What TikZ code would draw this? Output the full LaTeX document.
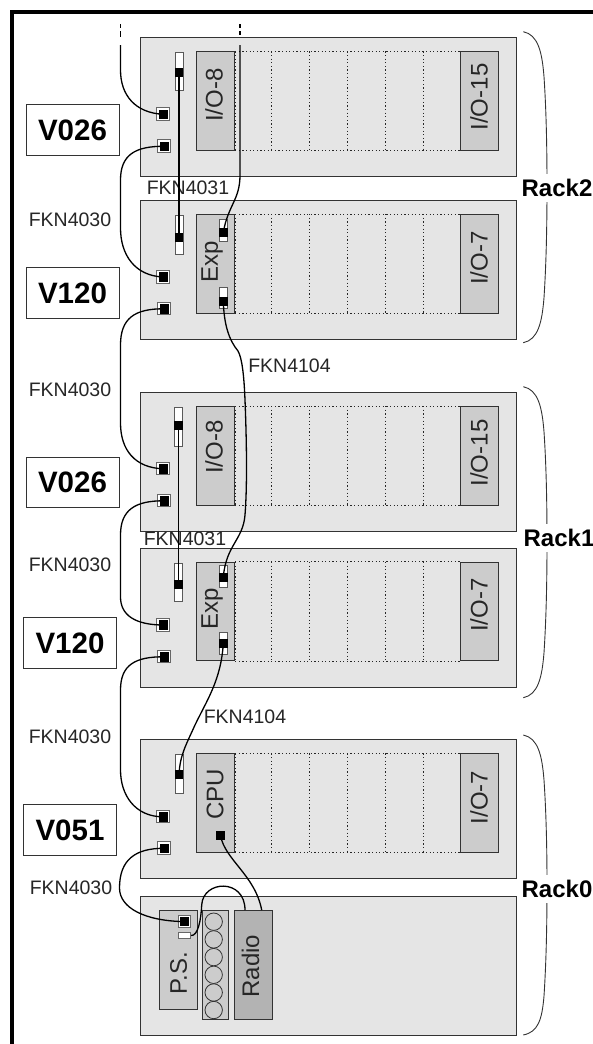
\documentclass[tikz,border=0pt]{standalone}
\usepackage{fontspec}
\setmainfont{Liberation Sans}
\definecolor{rackfill}{HTML}{E5E5E5}
\definecolor{slotfill}{HTML}{CCCCCC}
\definecolor{radiofill}{HTML}{B3B3B3}
\definecolor{edge}{HTML}{333333}
\tikzset{
  rackbox/.style={draw=edge,fill=rackfill,line width=0.9pt,minimum width=376.5pt,minimum height=139pt,inner sep=0pt,anchor=north west},
  slotbox/.style={draw=edge,fill=slotfill,line width=0.9pt,minimum width=38pt,minimum height=98.5pt,inner sep=0pt,anchor=north west},
  slotdot/.style={line width=0.9pt,dash pattern=on 1.2pt off 2.4pt,black!85},
  slotname/.style={rotate=90,font=\fontsize{24}{24}\selectfont,text=black!85,inner sep=0pt},
  plain/.style={font=\fontsize{19.5}{20}\selectfont,text=black!85,inner sep=0pt},
  volt/.style={draw=edge,fill=white,line width=0.9pt,minimum width=93pt,minimum height=50.5pt,font=\bfseries\fontsize{29.5}{30}\selectfont,inner sep=0pt},
  racklabel/.style={font=\bfseries\fontsize{24}{24}\selectfont,fill=white,inner sep=0pt,minimum height=28pt},
  portout/.style={draw=black!60,fill=white,line width=0.8pt,minimum size=12.5pt,inner sep=0pt},
  portin/.style={fill=black,minimum size=9.5pt,inner sep=0pt},
  switchbox/.style={draw=black!65,fill=white,line width=0.8pt,minimum width=8pt,minimum height=38.5pt,inner sep=0pt},
  exsw/.style={draw=black!65,fill=white,line width=0.8pt,minimum width=8pt,minimum height=21.5pt,inner sep=0pt},
  band/.style={fill=black,minimum width=8.5pt,minimum height=9pt,inner sep=0pt},
  cable/.style={draw=black,line width=1.3pt},
  brace/.style={draw=edge,line width=0.9pt},
}
\newcommand{\rackunit}[2]{%
  \node[rackbox] (#1) at (139.5,#2) {};
  \node[slotbox] (#1L) at (196.3,#2+14.4) {};
  \node[slotbox] (#1R) at (460.3,#2+14.4) {};
  \draw[slotdot] (#1L.north east) -- (#1R.north west);
  \draw[slotdot] (#1L.south east) -- (#1R.south west);
  \draw[slotdot] (#1L.north east) -- (#1L.south east);
  \foreach \vx in {271.3,309.3,347.3,385.3,423.3}
    \draw[slotdot] (\vx,#2+14.4) -- (\vx,#2+112.9);
}
\newcommand{\portat}[4]{% name, x, y, black offset x
  \node[portout] (#1o) at (#2,#3) {};
  \node[portin] (#1) at (#2+#4,#3+0.3) {};
}
\newcommand{\switchat}[4]{% name, x, y centre, band y
  \node[switchbox] (#1o) at (#2,#3) {};
  \node[band] (#1) at (#2,#4) {};
}
\newcommand{\exswitch}[4]{%
  \node[exsw] (#1o) at (#2,#3) {};
  \node[band] (#1) at (#2,#4) {};
}
\newcommand{\bracefrom}[1]{% top y
  \draw[brace] (523.3,#1) .. controls (538,#1+3) and (542,#1+20) .. (544,#1+45)
    .. controls (546,#1+75) and (547,#1+110) .. (547,#1+155)
    .. controls (547,#1+200) and (546,#1+235) .. (544,#1+266)
    .. controls (542,#1+291) and (538,#1+308) .. (523.3,#1+311);
}
\begin{document}
\begin{tikzpicture}[x=1pt,y=-1pt]
\useasboundingbox (0,0) rectangle (593,1044);
\fill[white] (0,0) rectangle (593,1044);
\fill[black] (10,10) rectangle (593,14.2);
\fill[black] (10,10) rectangle (14.2,1044);

% racks
\rackunit{a}{37}
\rackunit{b}{199.7}
\rackunit{c}{391.7}
\rackunit{d}{547.5}
\rackunit{e}{739}
\node[rackbox] (f) at (139.5,895.5) {};

% slot names
\node[slotname] (t1) at (214,95) {I/O-8};
\node[slotname] (t2) at (479,97) {I/O-15};
\node[slotname] (t3) at (212,262) {Exp};
\node[slotname] (t4) at (479,258) {I/O-7};
\node[slotname] (t5) at (214,447) {I/O-8};
\node[slotname] (t6) at (479,453) {I/O-15};
\node[slotname] (t7) at (212,609) {Exp};
\node[slotname] (t8) at (479,605) {I/O-7};
\node[slotname] (t9) at (215,794) {CPU};
\node[slotname] (t10) at (479,797.5) {I/O-7};

% bottom rack contents
\node[slotbox,minimum height=99pt] (ps) at (158.7,910) {};
\node[slotname] (t11) at (178.5,973) {P.S.};
\node[slotbox,minimum width=26pt,minimum height=109.3pt] (fan) at (202,910) {};
\foreach \cy in {921.7,939.4,957.1,974.8,992.5,1010}
  \draw[draw=edge,line width=0.8pt,fill=slotfill] (213.7,\cy) circle (8.7);
\node[slotbox,fill=radiofill,minimum height=109.3pt] (radio) at (234,910) {};
\node[slotname] (t12) at (250.5,966) {Radio};

% voltage boxes
\node[volt] (v1) at (72.5,130) {V026};
\node[volt] (v2) at (72.5,293) {V120};
\node[volt] (v3) at (72.5,482.5) {V026};
\node[volt] (v4) at (70,643) {V120};
\node[volt] (v5) at (70,830) {V051};

% rack labels and braces
\bracefrom{31.7}
\bracefrom{386.7}
\draw[brace] (523.3,735) .. controls (538,738) and (542,755) .. (544,780)
  .. controls (546,810) and (547,845) .. (547,885)
  .. controls (547,930) and (546,965) .. (544,996)
  .. controls (542,1020) and (538,1032) .. (523.3,1035);
\node[racklabel] (rk2) at (557,188) {Rack2};
\node[racklabel] (rk1) at (559,538) {Rack1};
\node[racklabel] (rk0) at (557,889) {Rack0};

% ports
\portat{p1}{162.7}{114}{0.8}
\portat{p2}{164}{146}{0.6}
\portat{p3}{162.7}{276.7}{0.8}
\portat{p4}{164}{308.5}{0.6}
\portat{p5}{162.7}{468.5}{0.8}
\portat{p6}{164}{500.5}{0.6}
\portat{p7}{162.7}{624.7}{0.8}
\portat{p8}{164}{656.5}{0.6}
\portat{p9}{162.7}{816.5}{0.8}
\portat{p10}{164}{848}{0.6}
\portat{p11}{184.5}{921.3}{0}
\node[draw=black!60,fill=white,line width=0.8pt,minimum width=12.5pt,minimum height=5.5pt,inner sep=0pt] (p12) at (184.5,935.5) {};
\node[fill=black,minimum size=9pt,inner sep=0pt] (cpu) at (220.5,835.5) {};

% switches
\switchat{s1}{179}{71.5}{72.5}
\switchat{s2}{179}{235}{237}
\switchat{s3}{178.5}{426.7}{425.5}
\switchat{s4}{178.5}{582.5}{584.5}
\switchat{s5}{179}{774}{774.5}
\exswitch{x1}{223.3}{230.5}{232.5}
\exswitch{x2}{223.3}{298}{301}
\exswitch{x3}{223.3}{576.5}{577.2}
\exswitch{x4}{223.3}{643.5}{643.5}

% FKN labels
\node[plain] (l1) at (70,220) {FKN4030};
\node[plain] (l2) at (70,390) {FKN4030};
\node[plain] (l3) at (70,565) {FKN4030};
\node[plain] (l4) at (70,737) {FKN4030};
\node[plain] (l5) at (71,888) {FKN4030};
\node[plain] (l6) at (188,188) {FKN4031};
\node[plain] (l7) at (185,539) {FKN4031};
\node[plain] (l8) at (289.5,366) {FKN4104};
\node[plain] (l9) at (245,717) {FKN4104};

% free cable ends
\coordinate (top1) at (120.5,45);
\coordinate (top2) at (240,45);
\coordinate (d1a) at (120.5,24);
\coordinate (d1b) at (120.5,27.5);
\coordinate (d1c) at (120.5,31);
\coordinate (d1d) at (120.5,37);
\coordinate (d2a) at (240,24);
\coordinate (d2b) at (240,27.5);
\coordinate (d2c) at (240,31);
\coordinate (d2d) at (240,35);
\draw[black,line width=1.3pt] (d1a) -- (d1b) (d1c) -- (d1d) (d2a) -- (d2b) (d2c) -- (d2d);

% cables
\draw[cable] (top1) -- ++(0,25) .. controls (120.5,95) and (135,113) .. (p1.center);
\draw[cable] (top2) -- ++(0,130) .. controls (240,200) and (228,205) .. (x1.center);
\draw[cable] (p2.center) .. controls (135,146) and (120.5,155) .. (120.5,180) -- (120.5,228) .. controls (120.5,255) and (135,276) .. (p3.center);
\draw[cable] (p4.center) .. controls (135,308.5) and (120.5,318) .. (120.5,345) -- (120.5,423) .. controls (120.5,450) and (135,468) .. (p5.center);
\draw[cable] (p6.center) .. controls (135,500.5) and (120.5,510) .. (120.5,535) -- (120.5,597) .. controls (120.5,615) and (135,625) .. (p7.center);
\draw[cable] (p8.center) .. controls (135,656.5) and (120.5,665) .. (120.5,690) -- (120.5,770) .. controls (120.5,795) and (135,817) .. (p9.center);
\draw[cable] (p10.center) .. controls (135,848) and (119.5,860) .. (119.5,888) .. controls (119.5,908) and (145,921) .. (p11.center);
\draw[cable] (s1.center) -- (s2.center);
\draw[cable] (s3.center) -- (s4.center);
\draw[cable] (x2.center) .. controls (224,325) and (229,340) .. (238,351) .. controls (242,358) and (244,375) .. (245,400) .. controls (247,450) and (247,490) .. (245,515) .. controls (243,540) and (226,545) .. (x3.center);
\draw[cable] (x4.center) .. controls (221,680) and (207,700) .. (195,725) .. controls (186,745) and (180,755) .. (s5.center);
\coordinate (radioin) at (261.7,910);
\coordinate (radioin2) at (245,910);
\draw[cable] (cpu.center) .. controls (225,860) and (255,875) .. (radioin);
\draw[cable] (p12.east) .. controls (198,936) and (201,920) .. (201.7,905) .. controls (203,880) and (245,878) .. (radioin2);
\end{tikzpicture}
\end{document}
